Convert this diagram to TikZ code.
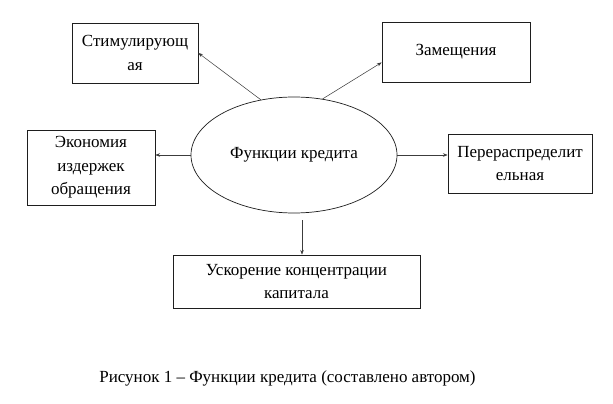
\documentclass[tikz,border=0pt]{standalone}
\usepackage{fontspec}
\setmainfont{Liberation Serif}
\usepackage{xcolor}
\definecolor{fnline}{RGB}{30,30,30}
\definecolor{fnarrow}{RGB}{60,60,60}
\usetikzlibrary{arrows.meta,positioning,shapes.geometric}

\begin{document}
\begin{tikzpicture}[
  fnbox/.style={
    rectangle,
    draw=fnline, line width=0.6pt,
    align=center,
    inner sep=2pt,
    font=\fontsize{14.5}{20}\selectfont
  },
  fnell/.style={
    ellipse,
    draw=fnline, line width=0.6pt,
    minimum width=6.18cm, minimum height=3.48cm,
    font=\fontsize{14.5}{20}\selectfont
  },
  conn/.style={-{Stealth[length=4pt,width=3pt]}, line width=0.45pt, draw=fnarrow}
]
\useasboundingbox (0,0) rectangle (18.39,12.09);

\node[fnell] (ell) at (8.82,7.44) {Функции кредита};

\node[fnbox, minimum width=3.78cm, minimum height=1.8cm]  (stim) at (4.05,10.5)   {Стимулирующ\\ая};
\node[fnbox, minimum width=4.44cm, minimum height=1.8cm]  (zam)  at (13.68,10.53) {Замещения};
\node[fnbox, minimum width=3.84cm, minimum height=2.25cm] (ekon) at (2.73,7.065)  {Экономия\\издержек\\обращения};
\node[fnbox, minimum width=4.32cm, minimum height=1.77cm] (pere) at (15.6,7.185)  {Перераспределит\\ельная};
\node[fnbox, minimum width=7.41cm, minimum height=1.59cm] (usk)  at (8.895,3.645) {Ускорение концентрации\\капитала};

\coordinate (dtop) at ([xshift=0.24cm,yshift=-0.2cm]ell.south);

\draw[conn] (ell.121) -- (stim.east);
\draw[conn] (ell.63) -- (zam.188);
\draw[conn] (ell.west) -- (ell.west -| ekon.east);
\draw[conn] (ell.east) -- (ell.east -| pere.west);
\draw[conn] (dtop) -- (dtop |- usk.north);

\node[font=\fontsize{14.5}{20}\selectfont] (cap) at (8.625,0.75)
  {Рисунок 1 -- Функции кредита (составлено автором)};
\end{tikzpicture}
\end{document}
